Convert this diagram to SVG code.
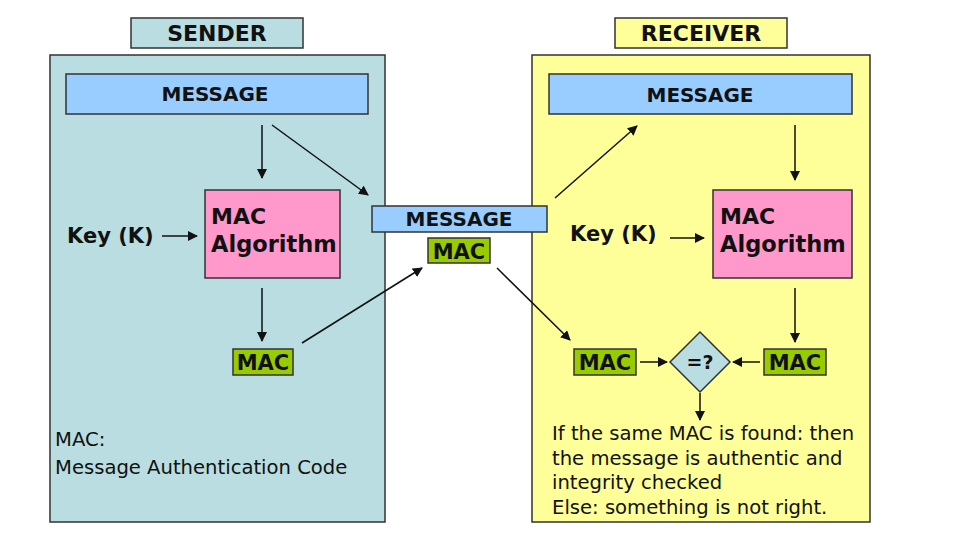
<svg xmlns="http://www.w3.org/2000/svg" width="971" height="543" viewBox="0 0 971 543">
<style>
.b{stroke:#333;stroke-width:1.5}
.t{font-family:"DejaVu Sans",sans-serif;font-weight:bold;fill:#111;text-anchor:middle}
.l{text-anchor:start}
.n{font-family:"DejaVu Sans",sans-serif;fill:#111;font-size:19.6px}
.msg{fill:#99ccff}.mac{fill:#99cc00}.alg{fill:#ff99cc}
.c line{stroke:#111;stroke-width:1.5;marker-end:url(#a)}
</style>
<defs><marker id="a" markerWidth="10" markerHeight="10" refX="9" refY="5" orient="auto" markerUnits="userSpaceOnUse"><path d="M0,0L10,5L0,10z" fill="#111"/></marker></defs>
<rect width="971" height="543" fill="#fff"/>
<g id="sender"><rect x="50" y="55" width="335" height="467" fill="#b9dde0" class="b"/>
<rect x="131" y="18" width="172" height="30" fill="#b9dde0" class="b"/><text x="217" y="41" class="t" font-size="22">SENDER</text></g>
<g id="receiver"><rect x="532" y="55" width="338" height="467" fill="#ffff99" class="b"/>
<rect x="615" y="18" width="172" height="30" fill="#ffff99" class="b"/><text x="701" y="41" class="t" font-size="22">RECEIVER</text></g>
<g id="s-msg"><rect x="66" y="74" width="302" height="40" class="msg b"/><text x="215" y="101" class="t" font-size="20">MESSAGE</text></g>
<g id="s-alg"><rect x="205" y="190" width="135" height="88" class="alg b"/><text x="211" y="224" class="t l" font-size="22">MAC</text><text x="211" y="252" class="t l" font-size="22.5">Algorithm</text></g>
<g id="s-key"><text x="67" y="243" class="t l" font-size="21">Key (K)</text></g>
<g id="s-mac"><rect x="233" y="349" width="60" height="26" class="mac b"/><text x="263" y="370" class="t" font-size="21">MAC</text></g>
<g id="m-msg"><rect x="372" y="206" width="175" height="26" class="msg b"/><text x="459" y="226" class="t" font-size="20">MESSAGE</text></g>
<g id="m-mac"><rect x="428" y="238" width="62" height="25" class="mac b"/><text x="459" y="259" class="t" font-size="21">MAC</text></g>
<g id="r-msg"><rect x="549" y="74" width="303" height="40" class="msg b"/><text x="700" y="102" class="t" font-size="20">MESSAGE</text></g>
<g id="r-alg"><rect x="713" y="190" width="139" height="88" class="alg b"/><text x="720" y="224" class="t l" font-size="22">MAC</text><text x="720" y="252" class="t l" font-size="22.5">Algorithm</text></g>
<g id="r-key"><text x="570" y="241" class="t l" font-size="21">Key (K)</text></g>
<g id="r-mac1"><rect x="574" y="349" width="62" height="26" class="mac b"/><text x="605" y="370" class="t" font-size="21">MAC</text></g>
<g id="r-mac2"><rect x="764" y="349" width="62" height="26" class="mac b"/><text x="795" y="370" class="t" font-size="21">MAC</text></g>
<g id="cmp"><path d="M700,332L730,362L700,392L670,362z" fill="#b9dde0" class="b"/><text x="700" y="369" class="t" font-size="19">=?</text></g>
<g id="notes">
<text x="55" y="446" class="n">MAC:</text><text x="55" y="474" class="n">Message Authentication Code</text>
<text x="552" y="440" class="n">If the same MAC is found: then</text>
<text x="552" y="465" class="n">the message is authentic and</text>
<text x="552" y="489" class="n">integrity checked</text>
<text x="552" y="514" class="n">Else: something is not right.</text></g>
<g class="c">
<line x1="162" y1="236" x2="197" y2="236"/>
<line x1="262" y1="125" x2="262" y2="178"/>
<line x1="272" y1="125" x2="368" y2="195"/>
<line x1="262" y1="288" x2="262" y2="341"/>
<line x1="302" y1="343" x2="422" y2="268"/>
<line x1="555" y1="198" x2="637" y2="126"/>
<line x1="795" y1="125" x2="795" y2="180"/>
<line x1="670" y1="238" x2="704" y2="238"/>
<line x1="795" y1="288" x2="795" y2="342"/>
<line x1="497" y1="268" x2="570" y2="340"/>
<line x1="640" y1="362" x2="667" y2="362"/>
<line x1="760" y1="362" x2="733" y2="362"/>
<line x1="700" y1="393" x2="700" y2="420"/>
</g>
</svg>
